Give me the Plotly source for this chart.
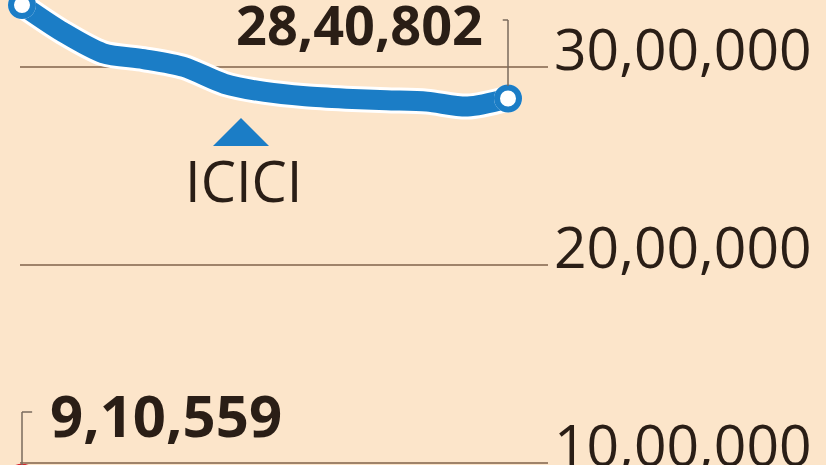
import plotly.graph_objects as go

# ---- data ----
periods = list(range(13))
icici_values = [3313000, 3177000, 3070000, 3040000, 3000000, 2915000, 2874000,
                2852000, 2840000, 2832000, 2825000, 2800000, 2840802]
red_periods = [0, 1]
red_values = [910559, 880000]
tick_values = [1000000, 2000000, 3000000]
tick_labels = ["10,00,000", "20,00,000", "30,00,000"]
end_label = "28,40,802"
start_label = "9,10,559"
series_name = "ICICI"

W, H = 826, 465
BG = "#FCE5CA"
BLUE = "#1B7DC6"
TEXT = "#2A1E16"
GRID = "#9F836A"

x0_px, dx_px = 22, 40.5
x_range = [-x0_px / dx_px, (W - x0_px) / dx_px]
y_range = [3000000 - (465 - 67) / 198 * 1000000, 3000000 + 67 / 198 * 1000000]

fig = go.Figure()

# red series (mostly below the visible area)
fig.add_trace(go.Scatter(x=red_periods, y=red_values, mode="lines+markers",
                         line=dict(color="white", width=26), marker=dict(size=34, color="white"),
                         hoverinfo="skip", showlegend=False))
fig.add_trace(go.Scatter(x=red_periods, y=red_values, mode="lines+markers",
                         line=dict(color="#D7262B", width=20),
                         marker=dict(size=28, color="white", line=dict(color="#D7262B", width=6)),
                         showlegend=False))

# white halo under the blue line
fig.add_trace(go.Scatter(x=periods, y=icici_values, mode="lines",
                         line=dict(color="white", width=26, shape="spline", smoothing=0.8),
                         hoverinfo="skip", showlegend=False))
fig.add_trace(go.Scatter(x=periods, y=icici_values, mode="lines",
                         line=dict(color=BLUE, width=20, shape="spline", smoothing=0.8),
                         showlegend=False, name=series_name))
ends_x = [periods[0], periods[-1]]
ends_y = [icici_values[0], icici_values[-1]]
fig.add_trace(go.Scatter(x=ends_x, y=ends_y, mode="markers",
                         marker=dict(size=28, color="white"), hoverinfo="skip", showlegend=False))
fig.add_trace(go.Scatter(x=ends_x, y=ends_y, mode="markers",
                         marker=dict(size=22, color="white", line=dict(color=BLUE, width=6)),
                         showlegend=False))

shapes = []
for tv in tick_values:
    shapes.append(dict(type="line", xref="paper", yref="y", x0=20 / W, x1=548 / W,
                       y0=tv, y1=tv, line=dict(color=GRID, width=2), layer="below"))

LEAD = "#7A6A5C"
shapes.append(dict(type="line", xref="x", yref="paper", x0=periods[-1], x1=periods[-1],
                   y0=1 - 20 / H, y1=1 - 86 / H, line=dict(color=LEAD, width=1.5)))
shapes.append(dict(type="line", xref="x", yref="paper", x0=periods[-1] - 0.13, x1=periods[-1],
                   y0=1 - 20 / H, y1=1 - 20 / H, line=dict(color=LEAD, width=1.5)))
shapes.append(dict(type="line", xref="x", yref="paper", x0=periods[0], x1=periods[0],
                   y0=1 - 412 / H, y1=0, line=dict(color=LEAD, width=1.5)))
shapes.append(dict(type="line", xref="x", yref="paper", x0=periods[0], x1=periods[0] + 0.25,
                   y0=1 - 412 / H, y1=1 - 412 / H, line=dict(color=LEAD, width=1.5)))
shapes.append(dict(type="path", xref="paper", yref="paper",
                   path=f"M {213/W} {1-146/H} L {241/W} {1-118/H} L {269/W} {1-146/H} Z",
                   fillcolor=BLUE, line=dict(width=0)))

annotations = []
for tv, tl in zip(tick_values, tick_labels):
    annotations.append(dict(xref="paper", yref="y", x=552 / W, y=tv, text=tl, showarrow=False,
                            xanchor="left", yanchor="middle", yshift=19,
                            font=dict(family="Open Sans", size=57, color=TEXT)))
annotations.append(dict(xref="x", yref="paper", x=periods[-1], y=1 - 24 / H, text=f"<b>{end_label}</b>",
                        showarrow=False, xanchor="right", yanchor="middle", xshift=-23,
                        font=dict(family="Open Sans", size=54, color=TEXT)))
annotations.append(dict(xref="x", yref="paper", x=periods[0], y=1 - 414 / H, text=f"<b>{start_label}</b>",
                        showarrow=False, xanchor="left", yanchor="middle", xshift=26,
                        font=dict(family="Open Sans", size=58, color=TEXT)))
annotations.append(dict(xref="paper", yref="paper", x=244 / W, y=1 - 180 / H, text=series_name,
                        showarrow=False, xanchor="center", yanchor="middle",
                        font=dict(family="Open Sans", size=56, color=TEXT)))

fig.update_layout(
    width=W, height=H, margin=dict(l=0, r=0, t=0, b=0),
    paper_bgcolor=BG, plot_bgcolor=BG,
    xaxis=dict(range=x_range, visible=False, fixedrange=True),
    yaxis=dict(range=y_range, visible=False, fixedrange=True),
    shapes=shapes, annotations=annotations, showlegend=False,
)

fig.write_html("out.html", config={"displayModeBar": False},
               post_script="document.body.style.margin='0';document.body.style.overflow='hidden';")
